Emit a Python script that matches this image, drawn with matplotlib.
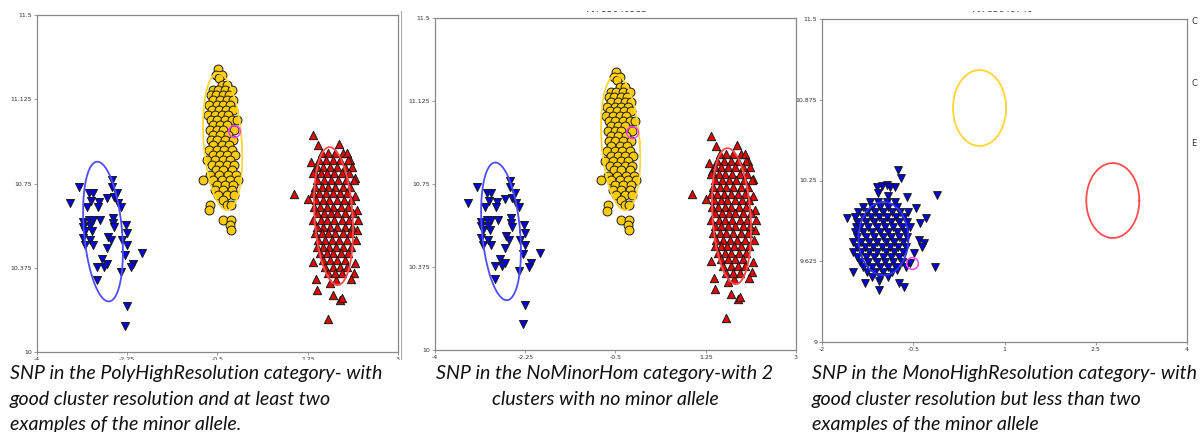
import numpy as np
import matplotlib.pyplot as plt
from matplotlib.patches import Rectangle
from matplotlib.lines import Line2D

# ----------------------------
# DATA
# ----------------------------
# panels 1 and 2 share the same cluster plot
blue_pts = [(-3.19, 10.736), (-3.36, 10.664), (-2.99, 10.709), (-2.92, 10.709), (-2.95, 10.672),
            (-2.79, 10.668), (-2.82, 10.647), (-3.04, 10.644), (-2.55, 10.765), (-2.55, 10.736),
            (-2.44, 10.709), (-2.51, 10.688), (-2.65, 10.684), (-2.42, 10.664), (-2.38, 10.647),
            (-3.10, 10.580), (-3.00, 10.587), (-2.91, 10.587), (-2.78, 10.587), (-3.10, 10.558),
            (-2.97, 10.561), (-2.93, 10.540), (-3.07, 10.540), (-2.53, 10.595), (-2.52, 10.575),
            (-2.51, 10.555), (-2.27, 10.565), (-2.25, 10.528), (-3.10, 10.506), (-2.97, 10.498),
            (-3.07, 10.476), (-2.91, 10.476), (-2.62, 10.513), (-2.57, 10.498), (-2.65, 10.461),
            (-2.36, 10.498), (-2.26, 10.476), (-2.29, 10.432), (-1.97, 10.439), (-2.74, 10.413),
            (-2.84, 10.380), (-2.71, 10.380), (-2.64, 10.392), (-2.14, 10.392), (-2.18, 10.377),
            (-2.38, 10.357), (-2.83, 10.320), (-2.25, 10.205), (-2.29, 10.116)]

yellow_pts = [(-0.497, 11.258), (-0.529, 11.233), (-0.419, 11.233), (-0.464, 11.218),
              (-0.419, 11.189), (-0.322, 11.189),
              (-0.594, 11.167), (-0.484, 11.167), (-0.354, 11.167), (-0.225, 11.167),
              (-0.632, 11.144), (-0.529, 11.144), (-0.400, 11.144), (-0.270, 11.144),
              (-0.581, 11.122), (-0.451, 11.122), (-0.322, 11.122), (-0.193, 11.122),
              (-0.658, 11.100), (-0.516, 11.100), (-0.387, 11.100), (-0.257, 11.100),
              (-0.613, 11.078), (-0.464, 11.078), (-0.335, 11.078), (-0.193, 11.078),
              (-0.678, 11.055), (-0.548, 11.055), (-0.419, 11.055), (-0.290, 11.055),
              (-0.632, 11.033), (-0.503, 11.033), (-0.354, 11.033), (-0.225, 11.033), (-0.128, 11.033),
              (-0.581, 11.011), (-0.451, 11.011), (-0.322, 11.011),
              (-0.645, 10.989), (-0.516, 10.989), (-0.387, 10.989), (-0.173, 10.989),
              (-0.581, 10.966), (-0.451, 10.966), (-0.290, 10.966),
              (-0.632, 10.944), (-0.503, 10.944), (-0.354, 10.944), (-0.206, 10.944),
              (-0.581, 10.922), (-0.419, 10.922), (-0.270, 10.922),
              (-0.658, 10.900), (-0.516, 10.900), (-0.374, 10.900), (-0.225, 10.900),
              (-0.594, 10.877), (-0.451, 10.877), (-0.309, 10.877), (-0.161, 10.877),
              (-0.710, 10.855), (-0.548, 10.855), (-0.400, 10.855), (-0.257, 10.855),
              (-0.613, 10.833), (-0.464, 10.833), (-0.322, 10.833), (-0.180, 10.833),
              (-0.529, 10.811), (-0.387, 10.811), (-0.225, 10.811),
              (-0.645, 10.788), (-0.464, 10.788), (-0.290, 10.788), (-0.141, 10.788),
              (-0.787, 10.766), (-0.581, 10.766), (-0.419, 10.766), (-0.257, 10.766), (-0.096, 10.766),
              (-0.516, 10.744), (-0.354, 10.744), (-0.193, 10.744),
              (-0.548, 10.722), (-0.387, 10.722), (-0.225, 10.722),
              (-0.484, 10.699), (-0.322, 10.699), (-0.180, 10.699),
              (-0.387, 10.677), (-0.645, 10.655), (-0.322, 10.655), (-0.244, 10.655),
              (-0.658, 10.630), (-0.400, 10.588), (-0.244, 10.588), (-0.257, 10.566), (-0.244, 10.541)]

red_pts = [(1.358, 10.966), (1.442, 10.921), (1.863, 10.926), (1.313, 10.847), (1.378, 10.807),
           (0.984, 10.703), (1.249, 10.681), (1.358, 10.402), (1.410, 10.325), (1.423, 10.276),
           (1.733, 10.254), (1.876, 10.232), (1.914, 10.239), (1.636, 10.146), (2.147, 10.353),
           (2.089, 10.324), (2.166, 10.398), (2.199, 10.632), (2.231, 10.588), (2.199, 10.543),
           (2.186, 10.499), (2.166, 10.694), (2.166, 10.773), (2.069, 10.855), (1.927, 10.887),
           (1.798, 10.321), (1.682, 10.306),
           (1.520, 10.884), (1.649, 10.884), (1.779, 10.884), (2.005, 10.884),
           (1.475, 10.855), (1.604, 10.855), (1.733, 10.855), (1.876, 10.855), (2.037, 10.855),
           (1.423, 10.825), (1.552, 10.825), (1.682, 10.825), (1.824, 10.825), (1.972, 10.825), (2.102, 10.825),
           (1.358, 10.795), (1.501, 10.795), (1.630, 10.795), (1.759, 10.795), (1.908, 10.795), (2.056, 10.795),
           (1.436, 10.766), (1.565, 10.766), (1.695, 10.766), (1.843, 10.766), (1.992, 10.766), (2.147, 10.766),
           (1.391, 10.736), (1.520, 10.736), (1.649, 10.736), (1.779, 10.736), (1.927, 10.736), (2.069, 10.736),
           (1.358, 10.706), (1.475, 10.706), (1.604, 10.706), (1.733, 10.706), (1.876, 10.706), (2.005, 10.706),
           (1.410, 10.677), (1.539, 10.677), (1.669, 10.677), (1.811, 10.677), (1.953, 10.677), (2.082, 10.677),
           (1.371, 10.647), (1.488, 10.647), (1.617, 10.647), (1.746, 10.647), (1.888, 10.647), (2.037, 10.647),
           (1.436, 10.617), (1.565, 10.617), (1.695, 10.617), (1.824, 10.617), (1.972, 10.617), (2.121, 10.617),
           (1.358, 10.588), (1.501, 10.588), (1.630, 10.588), (1.759, 10.588), (1.908, 10.588), (2.056, 10.588),
           (1.423, 10.558), (1.552, 10.558), (1.682, 10.558), (1.824, 10.558), (1.972, 10.558), (2.102, 10.558),
           (1.391, 10.528), (1.520, 10.528), (1.649, 10.528), (1.779, 10.528), (1.927, 10.528), (2.069, 10.528),
           (1.455, 10.499), (1.585, 10.499), (1.714, 10.499), (1.863, 10.499), (2.005, 10.499),
           (1.423, 10.469), (1.539, 10.469), (1.669, 10.469), (1.798, 10.469), (1.940, 10.469), (2.082, 10.469),
           (1.488, 10.439), (1.617, 10.439), (1.746, 10.439), (1.888, 10.439), (2.037, 10.439),
           (1.552, 10.410), (1.682, 10.410), (1.824, 10.410), (1.972, 10.410),
           (1.585, 10.380), (1.733, 10.380), (1.876, 10.380), (2.005, 10.380),
           (1.649, 10.350), (1.779, 10.350), (1.908, 10.350)]

# panel 3 (mono) - only the blue cluster has calls
mono_pts = [(-0.756, 10.331), (-0.701, 10.267), (-0.103, 10.138), (-0.597, 10.120), (-0.460, 10.040),
            (-1.583, 9.957), (-0.290, 9.957), (-0.388, 9.924), (-1.441, 9.893), (-0.399, 9.789),
            (-0.323, 9.769), (-0.361, 9.738), (-0.487, 9.691), (-0.142, 9.583), (-1.496, 9.544),
            (-1.287, 9.454), (-1.057, 9.475), (-1.057, 9.402), (-0.728, 9.459), (-0.652, 9.423),
            (-0.553, 9.609), (-0.761, 9.557), (-0.619, 9.583),
            (-1.101, 10.197), (-1.019, 10.207), (-0.937, 10.215), (-0.882, 10.202), (-0.800, 10.197),
            (-1.074, 10.151), (-0.909, 10.130),
            (-1.211, 10.086), (-1.074, 10.086), (-0.937, 10.086), (-0.800, 10.086),
            (-1.320, 10.048), (-1.183, 10.048), (-1.046, 10.048), (-0.909, 10.048), (-0.772, 10.048),
            (-1.403, 10.009), (-1.266, 10.009), (-1.128, 10.009), (-0.991, 10.009), (-0.854, 10.009), (-0.717, 10.009), (-0.580, 10.009),
            (-1.457, 9.970), (-1.331, 9.970), (-1.200, 9.970), (-1.057, 9.970), (-0.926, 9.970), (-0.783, 9.970), (-0.652, 9.970),
            (-1.419, 9.931), (-1.276, 9.931), (-1.145, 9.931), (-1.002, 9.931), (-0.871, 9.931), (-0.728, 9.931), (-0.597, 9.931),
            (-1.375, 9.893), (-1.238, 9.893), (-1.101, 9.893), (-0.964, 9.893), (-0.827, 9.893), (-0.690, 9.893), (-0.553, 9.893),
            (-1.457, 9.854), (-1.320, 9.854), (-1.183, 9.854), (-1.046, 9.854), (-0.909, 9.854), (-0.772, 9.854), (-0.635, 9.854),
            (-1.419, 9.815), (-1.276, 9.815), (-1.145, 9.815), (-1.002, 9.815), (-0.871, 9.815), (-0.728, 9.815), (-0.597, 9.815),
            (-1.485, 9.777), (-1.364, 9.777), (-1.222, 9.777), (-1.090, 9.777), (-0.948, 9.777), (-0.816, 9.777), (-0.673, 9.777),
            (-1.430, 9.738), (-1.293, 9.738), (-1.156, 9.738), (-1.019, 9.738), (-0.882, 9.738), (-0.745, 9.738), (-0.619, 9.738),
            (-1.485, 9.699), (-1.364, 9.699), (-1.222, 9.699), (-1.090, 9.699), (-0.948, 9.699), (-0.816, 9.699), (-0.673, 9.699),
            (-1.419, 9.660), (-1.276, 9.660), (-1.145, 9.660), (-1.002, 9.660), (-0.871, 9.660), (-0.728, 9.660),
            (-1.375, 9.622), (-1.238, 9.622), (-1.101, 9.622), (-0.964, 9.622), (-0.827, 9.622), (-0.690, 9.622),
            (-1.320, 9.583), (-1.183, 9.583), (-1.046, 9.583), (-0.909, 9.583), (-0.783, 9.583),
            (-1.266, 9.544), (-1.128, 9.544), (-0.991, 9.544), (-0.854, 9.544),
            (-1.183, 9.506), (-1.046, 9.506), (-0.909, 9.506)]

# cluster ellipses: centre x, centre y, half width, half height, shear
poly_ell_cx = [-2.72, -0.40, 1.75]
poly_ell_cy = [10.536, 10.937, 10.605]
poly_ell_a = [0.37, 0.37, 0.37]
poly_ell_b = [0.311, 0.305, 0.307]
poly_ell_shear = [-0.11, -0.087, -0.078]

mono_ell_cx = [-0.99, 0.59, 2.78]
mono_ell_cy = [9.80, 10.811, 10.095]
mono_ell_a = [0.41, 0.436, 0.436]
mono_ell_b = [0.284, 0.294, 0.29]

# highlighted sample (magenta ring)
poly_sel = (-0.18, 10.984)
mono_sel = (-0.525, 9.609)

poly_xticks = [-4, -2.25, -0.5, 1.25, 3]
poly_yticks = [10, 10.375, 10.75, 11.125, 11.5]
mono_xticks = [-2, -0.5, 1, 2.5, 4]
mono_yticks = [9, 9.625, 10.25, 10.875, 11.5]

captions = [
    ["SNP in the PolyHighResolution category- with",
     "good cluster resolution and at least two",
     "examples of the minor allele."],
    ["SNP in the NoMinorHom category-with 2",
     "clusters with no minor allele"],
    ["SNP in the MonoHighResolution category- with",
     "good cluster resolution but less than two",
     "examples of the minor allele"],
]
titles = ["AX-85040583", "AX-83646740"]

# ----------------------------
# STYLE
# ----------------------------
BLUE, YELLOW, RED = '#0000E0', '#FFCC00', '#E60000'
E_BLUE, E_YELLOW, E_RED = '#4D4DFF', '#FFD633', '#FF4D4D'
MAGENTA = '#FF44FF'
W, H = 1201, 432


def fx(px):
    return px / W


def fy(py):
    return 1 - py / H


def draw_ellipse(ax, cx, cy, a, b, shear, color):
    t = np.linspace(0, 2 * np.pi, 240)
    ax.plot(cx + a * np.cos(t) + shear * np.sin(t), cy + b * np.sin(t),
            color=color, lw=1.3, zorder=4)


def style_axes(ax, xlim, ylim, xticks, yticks):
    ax.set_xlim(*xlim)
    ax.set_ylim(*ylim)
    ax.set_xticks(xticks)
    ax.set_yticks(yticks)
    ax.set_xticklabels([f"{v:g}" for v in xticks])
    ax.set_yticklabels([f"{v:g}" for v in yticks])
    ax.tick_params(labelsize=4.5, length=2, width=0.5, pad=1.5,
                   color='#777777', labelcolor='#333333')
    for s in ax.spines.values():
        s.set_color('#888888')
        s.set_linewidth(0.9)


def scatter(ax, pts, marker, color, ms):
    p = np.array(pts)
    ax.scatter(p[:, 0], p[:, 1], s=ms ** 2, marker=marker, c=color,
               edgecolors='#1a1a1a', linewidths=0.7, zorder=3)


fig = plt.figure(figsize=(W / 100, H / 100), dpi=100)

ax1 = fig.add_axes([fx(37), 80 / H, 361 / W, 337 / H])
ax2 = fig.add_axes([fx(435), 82 / H, 361 / W, 332 / H])
ax3 = fig.add_axes([fx(822), 90 / H, 365 / W, 323 / H])

for ax in (ax1, ax2):
    scatter(ax, blue_pts, 'v', BLUE, 5.8)
    scatter(ax, yellow_pts, 'o', YELLOW, 6.4)
    scatter(ax, red_pts, '^', RED, 6.0)
    for i, col in enumerate([E_BLUE, E_YELLOW, E_RED]):
        draw_ellipse(ax, poly_ell_cx[i], poly_ell_cy[i], poly_ell_a[i],
                     poly_ell_b[i], poly_ell_shear[i], col)
    ax.plot(*poly_sel, marker='o', ms=8.5, mfc='none', mec=MAGENTA, mew=1.1, zorder=5)
    style_axes(ax, (-4, 3), (10, 11.5), poly_xticks, poly_yticks)

scatter(ax3, mono_pts, 'v', BLUE, 5.6)
for i, col in enumerate(['#3333FF', E_YELLOW, E_RED]):
    draw_ellipse(ax3, mono_ell_cx[i], mono_ell_cy[i], mono_ell_a[i],
                 mono_ell_b[i], 0, col)
ax3.plot(*mono_sel, marker='o', ms=8.5, mfc='none', mec=MAGENTA, mew=1.1, zorder=5)
style_axes(ax3, (-2, 4), (9, 11.5), mono_xticks, mono_yticks)

# clipped panel titles and legend remnants
fig.text(fx(617), fy(9.5), titles[0], ha='center', va='center', fontsize=6.5, color='#333333')
fig.text(fx(1003), fy(9.5), titles[1], ha='center', va='center', fontsize=6.5, color='#333333')
for yy, ch in zip([22, 83, 143], ['C', 'C', 'E']):
    fig.text(fx(1191), fy(yy), ch, ha='left', va='center', fontsize=6, color='#333333')

# left border of the second screenshot
fig.add_artist(Line2D([fx(401), fx(401)], [72 / H, 1], color='#aaaaaa', lw=0.8))

# white strips covering the cut-off parts of the screenshots
fig.add_artist(Rectangle((0, fy(10.5)), 1, 10.5 / H, transform=fig.transFigure,
                         facecolor='white', edgecolor='none', zorder=4))
fig.add_artist(Rectangle((0, 0), 1, 72 / H, transform=fig.transFigure,
                         facecolor='white', edgecolor='none', zorder=4))

# captions
baselines = [379, 405, 430]
cap_font = dict(fontsize=14.1, style='italic', family='Lato', color='#111111',
                va='baseline', zorder=5)
for line, yb in zip(captions[0], baselines):
    fig.text(fx(10), fy(yb), line, ha='left', **cap_font)
for line, yb in zip(captions[1], baselines):
    fig.text(fx(605), fy(yb), line, ha='center', **cap_font)
for line, yb in zip(captions[2], baselines):
    fig.text(fx(812), fy(yb), line, ha='left', **cap_font)

fig.savefig('out.png', dpi=100)
